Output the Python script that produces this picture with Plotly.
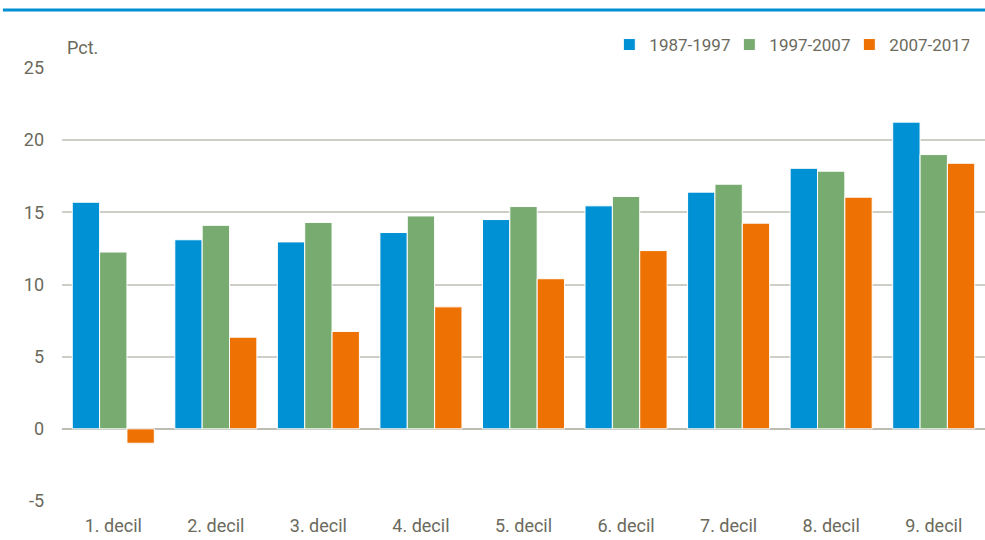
import plotly.graph_objects as go

categories = ["1. decil", "2. decil", "3. decil", "4. decil", "5. decil",
              "6. decil", "7. decil", "8. decil", "9. decil"]
s1_name = "1987-1997"
s1_vals = [15.7, 13.1, 12.95, 13.6, 14.5, 15.45, 16.4, 18.05, 21.25]
s2_name = "1997-2007"
s2_vals = [12.25, 14.1, 14.3, 14.75, 15.4, 16.1, 16.95, 17.85, 19.0]
s3_name = "2007-2017"
s3_vals = [-1.0, 6.35, 6.75, 8.45, 10.4, 12.35, 14.25, 16.05, 18.4]
y_ticks = [-5, 0, 5, 10, 15, 20, 25]
y_tick_labels = ["-5", "0", "5", "10", "15", "20", "25"]

FONT = "Roboto, Liberation Sans, sans-serif"
TXT = "#6b6a5c"
FS = 18

fig = go.Figure()
for name, vals, col in [(s1_name, s1_vals, "#0090D4"),
                        (s2_name, s2_vals, "#77AB6F"),
                        (s3_name, s3_vals, "#EE7203")]:
    fig.add_trace(go.Bar(x=categories, y=vals, name=name,
                         marker=dict(color=col, line=dict(color="white", width=1))))

fig.update_layout(
    width=985, height=540,
    margin=dict(l=62, r=0, t=68, b=39, autoexpand=False),
    paper_bgcolor="white", plot_bgcolor="white",
    barmode="group", bargap=0.2, bargroupgap=0.0,
    font=dict(family=FONT, size=FS, color=TXT),
    showlegend=True,
    legend=dict(orientation="h", x=0.593, xanchor="left",
                yref="container", y=1 - 45 / 540, yanchor="middle",
                font=dict(family=FONT, size=17, color=TXT),
                itemwidth=30, entrywidth=75, tracegroupgap=0,
                bgcolor="rgba(0,0,0,0)"),
    xaxis=dict(showgrid=False, showline=False, ticks="", zeroline=False,
               automargin=False, ticklabelstandoff=12,
               tickfont=dict(family=FONT, size=FS, color=TXT)),
    yaxis=dict(range=[-5, 25], tickvals=y_ticks, ticktext=y_tick_labels,
               showgrid=True,
               gridcolor="#cfcec6", gridwidth=1.5, zeroline=True,
               zerolinecolor="#bdbcb2", zerolinewidth=1.5, showline=False,
               ticks="", ticklabelstandoff=17, automargin=False,
               tickfont=dict(family=FONT, size=FS, color=TXT)),
    shapes=[dict(type="line", xref="paper", yref="paper", x0=-0.064, x1=1,
                 y0=1 + 58 / 433, y1=1 + 58 / 433,
                 line=dict(color="#0090D4", width=3))],
    annotations=[dict(text="Pct.", xref="paper", yref="paper", x=0.003,
                      y=1 + 20 / 433, xanchor="left", yanchor="middle",
                      showarrow=False,
                      font=dict(family=FONT, size=FS, color=TXT))],
)

fig.write_html("out.html", config={"displayModeBar": False},
               post_script="document.body.style.margin='0';document.body.style.padding='0';")
